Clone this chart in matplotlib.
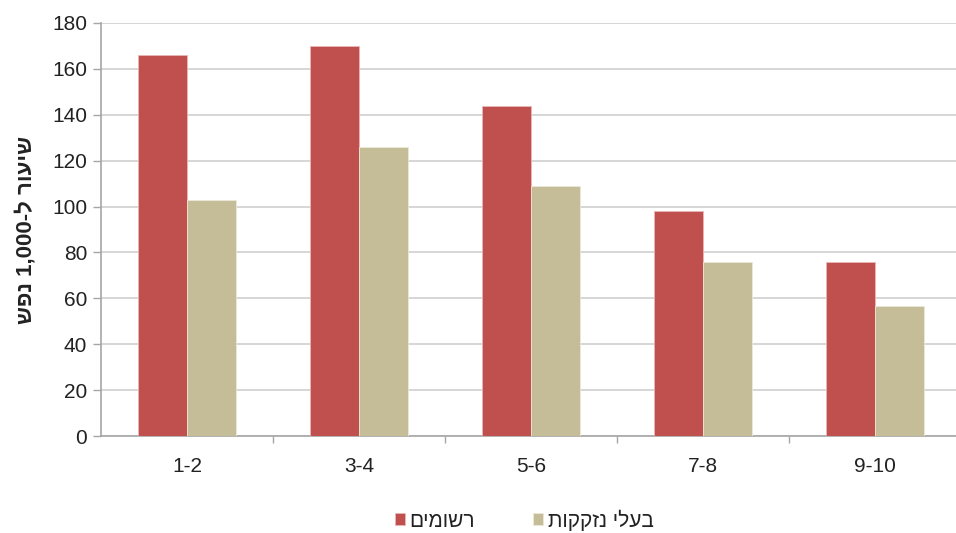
import numpy as np
import matplotlib.pyplot as plt

plt.rcParams['font.family'] = ['Liberation Sans', 'DejaVu Sans']

# data
categories = ['1-2', '3-4', '5-6', '7-8', '9-10']
registered = [166, 170, 144, 98, 76]
in_need = [103, 126, 109, 76, 56.5]

# hebrew labels written in visual order (matplotlib has no bidi)
label_registered = 'םימושר'
label_in_need = 'תוקקזנ ילעב'
ylabel = 'שפנ 1,000-ל רועיש'

red = '#c0504d'
beige = '#c4bd97'
gray = '#a6a6a6'

fig = plt.figure(figsize=(9.56, 5.33), dpi=100)
ax = fig.add_axes([101 / 956, 97 / 533, 855 / 956, 413 / 533])

x = np.arange(len(categories))
w = 0.285
ax.bar(x - w / 2, registered, w, color=red, edgecolor='#e8b7b5', linewidth=0.6,
       label=label_registered, zorder=3)
ax.bar(x + w / 2, in_need, w, color=beige, edgecolor='#ece8d8', linewidth=0.6,
       label=label_in_need, zorder=3)

ax.set_xlim(-0.5, -0.5 + 855 / 172)
ax.set_ylim(0, 180)
ax.set_yticks(np.arange(0, 181, 20))
ax.set_xticks(x)
ax.set_xticklabels(categories)
ax.set_xticks(np.arange(0.5, len(categories) - 0.5, 1), minor=True)

ax.grid(axis='y', color='#d0d0d0', linewidth=1.2, zorder=0)
for s in ['top', 'right']:
    ax.spines[s].set_visible(False)
ax.spines['left'].set_color(gray)
ax.spines['bottom'].set_color(gray)
ax.spines['left'].set_linewidth(1.2)
ax.spines['bottom'].set_linewidth(1.2)

ax.tick_params(axis='y', labelsize=15, color=gray, length=6, width=1, pad=4,
               labelcolor='#222222')
ax.tick_params(axis='x', which='major', labelsize=15, length=0, pad=15,
               labelcolor='#222222')
ax.tick_params(axis='x', which='minor', color=gray, length=5, width=1)

ax.set_ylabel(ylabel, fontsize=16, fontweight='bold', color='#222222')
ax.yaxis.set_label_coords(-64 / 855, 0.5)

fig.legend(loc='center', bbox_to_anchor=(524 / 956, 1 - 520 / 533), ncol=2,
           frameon=False, fontsize=15, handlelength=0.5, handleheight=0.5,
           columnspacing=2.8, handletextpad=0.2, labelcolor='#222222')

fig.savefig('out.png', dpi=100)
